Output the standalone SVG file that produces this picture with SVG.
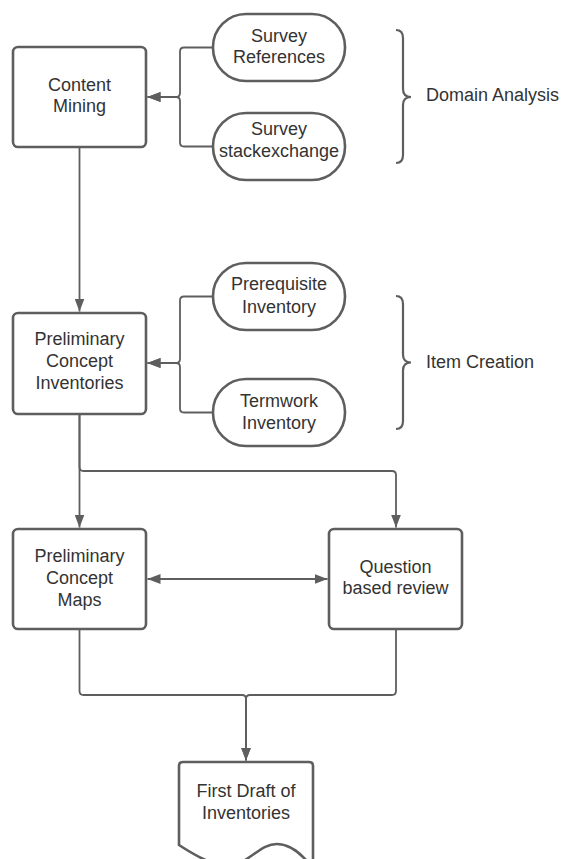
<svg xmlns="http://www.w3.org/2000/svg" width="564" height="859" viewBox="0 0 564 859">
  <defs>
    <marker id="arrow" viewBox="0 0 13 10" refX="13" refY="5" markerWidth="13" markerHeight="10" markerUnits="userSpaceOnUse" orient="auto-start-reverse">
      <path d="M0,0 L13,5 L0,10 Z" fill="#5e5e5e"/>
    </marker>
    <style>
      .node { fill: #ffffff; stroke: #5e5e5e; stroke-width: 2.6; }
      .conn { fill: none; stroke: #5e5e5e; stroke-width: 1.8; }
      .brace { fill: none; stroke: #5e5e5e; stroke-width: 2.2; }
      text { font-family: "Liberation Sans", Arial, sans-serif; font-size: 18px; fill: #333333; }
      .c { text-anchor: middle; }
    </style>
  </defs>
  <rect width="564" height="859" fill="#ffffff"/>

  <!-- connectors -->
  <g id="connectors">
    <path class="conn" d="M213,47.5 H184 Q180,47.5 180,51.5 V93 Q180,97 176,97 H147.5" marker-end="url(#arrow)"/>
    <path class="conn" d="M213,146.5 H184 Q180,146.5 180,142.5 V101 Q180,97 176,97 H147.5" marker-end="url(#arrow)"/>
    <path class="conn" d="M79.5,147 V311.5" marker-end="url(#arrow)"/>
    <path class="conn" d="M213,296.5 H184 Q180,296.5 180,300.5 V359 Q180,363 176,363 H147.5" marker-end="url(#arrow)"/>
    <path class="conn" d="M213,412.5 H184 Q180,412.5 180,408.5 V367 Q180,363 176,363 H147.5" marker-end="url(#arrow)"/>
    <path class="conn" d="M79.5,414 V527.5" marker-end="url(#arrow)"/>
    <path class="conn" d="M79.5,414 V467 Q79.5,471 83.5,471 H392 Q396,471 396,475 V527.5" marker-end="url(#arrow)"/>
    <path class="conn" d="M147.5,579 H327.5" marker-start="url(#arrow)" marker-end="url(#arrow)"/>
    <path class="conn" d="M79.5,629 V691 Q79.5,695 83.5,695 H242 Q246,695 246,699 V760.5" marker-end="url(#arrow)"/>
    <path class="conn" d="M396,629 V691 Q396,695 392,695 H250 Q246,695 246,699 V760.5" marker-end="url(#arrow)"/>
  </g>

  <!-- process boxes -->
  <g id="content-mining">
    <rect class="node" x="13" y="47" width="133" height="100" rx="5"/>
    <text class="c" x="79.5" y="90.5">Content</text>
    <text class="c" x="79.5" y="112">Mining</text>
  </g>
  <g id="survey-references">
    <rect class="node" x="213" y="14" width="132" height="67" rx="33"/>
    <text class="c" x="279" y="41.5">Survey</text>
    <text class="c" x="279" y="63">References</text>
  </g>
  <g id="survey-stackexchange">
    <rect class="node" x="213" y="113" width="132" height="67" rx="33"/>
    <text class="c" x="279" y="135">Survey</text>
    <text class="c" x="279" y="156.5">stackexchange</text>
  </g>
  <g id="domain-analysis">
    <path class="brace" d="M396,30 Q403,30 403,38 V89 Q403,97 411,97 Q403,97 403,105 V155 Q403,163 396,163"/>
    <text x="426" y="101">Domain Analysis</text>
  </g>

  <g id="preliminary-concept-inventories">
    <rect class="node" x="13" y="313" width="133" height="101" rx="5"/>
    <text class="c" x="79.5" y="345">Preliminary</text>
    <text class="c" x="79.5" y="367">Concept</text>
    <text class="c" x="79.5" y="389">Inventories</text>
  </g>
  <g id="prerequisite-inventory">
    <rect class="node" x="213" y="263" width="132" height="67" rx="33"/>
    <text class="c" x="279" y="290">Prerequisite</text>
    <text class="c" x="279" y="312.5">Inventory</text>
  </g>
  <g id="termwork-inventory">
    <rect class="node" x="213" y="379" width="132" height="67" rx="33"/>
    <text class="c" x="279" y="406.5">Termwork</text>
    <text class="c" x="279" y="428.5">Inventory</text>
  </g>
  <g id="item-creation">
    <path class="brace" d="M396,296 Q403,296 403,304 V354.5 Q403,362.5 411,362.5 Q403,362.5 403,370.5 V421 Q403,429 396,429"/>
    <text x="426" y="368">Item Creation</text>
  </g>

  <g id="preliminary-concept-maps">
    <rect class="node" x="13" y="529" width="133" height="100" rx="5"/>
    <text class="c" x="79.5" y="561.5">Preliminary</text>
    <text class="c" x="79.5" y="584">Concept</text>
    <text class="c" x="79.5" y="606">Maps</text>
  </g>
  <g id="question-based-review">
    <rect class="node" x="329" y="529" width="133" height="100" rx="5"/>
    <text class="c" x="395.5" y="572.5">Question</text>
    <text class="c" x="395.5" y="594">based review</text>
  </g>

  <!-- document shape -->
  <g id="first-draft">
    <path class="node" d="M179,766 Q179,762 183,762 H309 Q313,762 313,766 V868 C301,853 290,844 277,844 C265,844 258,852 245,860 C226,872 205,862 179,845 Z"/>
    <text class="c" x="246" y="796.5">First Draft of</text>
    <text class="c" x="246" y="819">Inventories</text>
  </g>
</svg>
